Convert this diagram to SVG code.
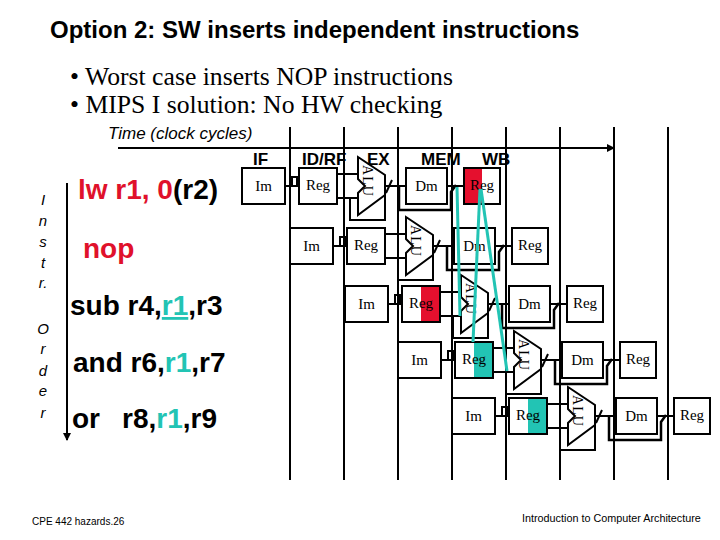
<svg xmlns="http://www.w3.org/2000/svg" width="720" height="540" viewBox="0 0 720 540">
<style>
.bx{fill:none;stroke:#000;stroke-width:2}
.w{fill:none;stroke:#000;stroke-width:2}
.lbl{font-family:"Liberation Serif","Times New Roman",serif;font-size:15px;text-anchor:middle;fill:#000}
.alu{font-family:"Liberation Serif","Times New Roman",serif;font-size:14px;text-anchor:middle;letter-spacing:1px}
.stg{font-family:"Liberation Sans",Arial,sans-serif;font-size:17px;font-weight:bold}
.ins{font-family:"Liberation Sans",Arial,sans-serif;font-size:28px;font-weight:bold}
.ord{font-family:"Liberation Sans",Arial,sans-serif;font-size:15px;font-style:italic;text-anchor:middle}
.bul{font-family:"Liberation Serif","Times New Roman",serif;font-size:25.7px}
.red{fill:#e0112b}
.cy{fill:#22c4b4}
.cyl{stroke:#22c4b4;stroke-width:3;fill:none}
.foot{font-family:"Liberation Sans",Arial,sans-serif;font-size:10px}
.foot2{font-family:"Liberation Sans",Arial,sans-serif;font-size:10.8px}
</style>
<defs>
<marker id="ah" markerWidth="8" markerHeight="8" refX="7" refY="4" orient="auto" markerUnits="userSpaceOnUse">
<path d="M0,0 L8,4 L0,8 Z" fill="#000"/>
</marker>
<g id="wires">
<path class="w" d="M43,18H57 M95,6H116 M95,30H116 M108,30V52H143V27 M143,18H164 M144,25L150,12 M205,18H222"/>
<rect x="50" y="9" width="5" height="9" class="bx" stroke-width="1.5"/>
<path d="M157,18V42H209V24L214,17" fill="none" stroke="#000" stroke-width="2.5"/>
</g>
</defs>
<rect width="720" height="540" fill="#fff"/>

<text x="50" y="38" font-family="Liberation Sans,Arial,sans-serif" font-size="24" font-weight="bold">Option 2: SW inserts independent instructions</text>
<text class="bul" x="70" y="85">• Worst case inserts NOP instructions</text>
<text class="bul" x="70" y="113">• MIPS I solution: No HW checking</text>
<text x="108" y="139" font-family="Liberation Sans,Arial,sans-serif" font-size="17" font-style="italic">Time (clock cycles)</text>

<g id="stages">
<text class="stg" x="253" y="165">IF</text>
<text class="stg" x="302" y="165">ID/RF</text>
<text class="stg" x="367" y="165">EX</text>
<text class="stg" x="421" y="165">MEM</text>
<text class="stg" x="482" y="165">WB</text>
</g>

<g id="order">
<text class="ord" x="43" y="205">I</text>
<text class="ord" x="43" y="226">n</text>
<text class="ord" x="43" y="247">s</text>
<text class="ord" x="43" y="268">t</text>
<text class="ord" x="43" y="288">r.</text>
<text class="ord" x="43" y="334">O</text>
<text class="ord" x="43" y="354">r</text>
<text class="ord" x="43" y="376">d</text>
<text class="ord" x="43" y="396">e</text>
<text class="ord" x="43" y="418">r</text>
</g>

<g id="instructions">
<text class="ins" x="78" y="199"><tspan class="red">lw r1, 0</tspan>(r2)</text>
<text class="ins red" x="83" y="258">nop</text>
<text class="ins" x="70" y="315">sub r4,<tspan class="cy" text-decoration="underline">r1</tspan>,r3</text>
<text class="ins" x="73" y="372">and r6,<tspan class="cy">r1</tspan>,r7</text>
<text class="ins" x="72" y="428">or<tspan x="122">r8,</tspan><tspan class="cy">r1</tspan>,r9</text>
</g>

<g id="connectors">
<path class="w" d="M290,127V480 M344,127V480 M398,127V480 M452,127V480 M506,127V480 M560,127V480 M614,127V480 M668,127V480"/>
<path class="w" d="M118,148H614" marker-end="url(#ah)"/>
<path class="w" d="M67,183V440" marker-end="url(#ah)"/>
</g>

<g id="row1" transform="translate(242,168)">
<use href="#wires"/>
<g id="r1-im"><rect class="bx" x="0" y="0" width="43" height="36"/><text class="lbl" x="21.5" y="23">Im</text></g>
<g id="r1-reg"><rect class="bx" x="57" y="0" width="38" height="36"/><text class="lbl" x="76" y="22">Reg</text></g>
<g id="r1-alu"><polygon class="bx" points="116,-11 143,7 143,27 116,47 116,25 123,18 116,11"/><text class="alu" transform="translate(121,13) rotate(90)">ALU</text></g>
<g id="r1-dm"><rect class="bx" x="164" y="0" width="41" height="36"/><text class="lbl" x="184.5" y="23">Dm</text></g>
<g id="r1-wb"><rect x="222" y="0" width="18" height="36" fill="#e5102e"/><rect class="bx" x="222" y="0" width="36" height="36"/><text class="lbl" x="240" y="22">Reg</text></g>
</g>

<g id="row2" transform="translate(290,228)">
<use href="#wires"/>
<g id="r2-im"><rect class="bx" x="0" y="0" width="43" height="36"/><text class="lbl" x="21.5" y="23">Im</text></g>
<g id="r2-reg"><rect class="bx" x="57" y="0" width="38" height="36"/><text class="lbl" x="76" y="22">Reg</text></g>
<g id="r2-alu"><polygon class="bx" points="116,-11 143,7 143,27 116,47 116,25 123,18 116,11"/><text class="alu" transform="translate(121,13) rotate(90)">ALU</text></g>
<g id="r2-dm"><rect class="bx" x="164" y="0" width="41" height="36"/><text class="lbl" x="184.5" y="23">Dm</text></g>
<g id="r2-wb"><rect class="bx" x="222" y="0" width="36" height="36"/><text class="lbl" x="240" y="22">Reg</text></g>
</g>

<g id="row3" transform="translate(345,286)">
<use href="#wires"/>
<g id="r3-im"><rect class="bx" x="0" y="0" width="43" height="36"/><text class="lbl" x="21.5" y="23">Im</text></g>
<g id="r3-reg"><rect x="76" y="0" width="19" height="36" fill="#e5102e"/><rect class="bx" x="57" y="0" width="38" height="36"/><text class="lbl" x="76" y="22">Reg</text></g>
<g id="r3-alu"><polygon class="bx" points="116,-11 143,7 143,27 116,47 116,25 123,18 116,11"/><text class="alu" transform="translate(121,13) rotate(90)">ALU</text></g>
<g id="r3-dm"><rect class="bx" x="164" y="0" width="41" height="36"/><text class="lbl" x="184.5" y="23">Dm</text></g>
<g id="r3-wb"><rect class="bx" x="222" y="0" width="36" height="36"/><text class="lbl" x="240" y="22">Reg</text></g>
</g>

<g id="row4" transform="translate(398,342)">
<use href="#wires"/>
<g id="r4-im"><rect class="bx" x="0" y="0" width="43" height="36"/><text class="lbl" x="21.5" y="23">Im</text></g>
<g id="r4-reg"><rect x="76" y="0" width="19" height="36" fill="#22c4b4"/><rect class="bx" x="57" y="0" width="38" height="36"/><text class="lbl" x="76" y="22">Reg</text></g>
<g id="r4-alu"><polygon class="bx" points="116,-11 143,7 143,27 116,47 116,25 123,18 116,11"/><text class="alu" transform="translate(121,13) rotate(90)">ALU</text></g>
<g id="r4-dm"><rect class="bx" x="164" y="0" width="41" height="36"/><text class="lbl" x="184.5" y="23">Dm</text></g>
<g id="r4-wb"><rect class="bx" x="222" y="0" width="36" height="36"/><text class="lbl" x="240" y="22">Reg</text></g>
</g>

<g id="row5" transform="translate(452,398)">
<use href="#wires"/>
<g id="r5-im"><rect class="bx" x="0" y="0" width="43" height="36"/><text class="lbl" x="21.5" y="23">Im</text></g>
<g id="r5-reg"><rect x="76" y="0" width="19" height="36" fill="#22c4b4"/><rect class="bx" x="57" y="0" width="38" height="36"/><text class="lbl" x="76" y="22">Reg</text></g>
<g id="r5-alu"><polygon class="bx" points="116,-11 143,7 143,27 116,47 116,25 123,18 116,11"/><text class="alu" transform="translate(121,13) rotate(90)">ALU</text></g>
<g id="r5-dm"><rect class="bx" x="164" y="0" width="41" height="36"/><text class="lbl" x="184.5" y="23">Dm</text></g>
<g id="r5-wb"><rect class="bx" x="222" y="0" width="36" height="36"/><text class="lbl" x="240" y="22">Reg</text></g>
</g>

<g id="forwarding">
<path class="cyl" d="M457,187L460,316"/>
<path class="cyl" d="M480,189L473,342"/>
<path class="cyl" d="M481,189L507,371"/>
</g>

<text class="foot" x="32" y="525">CPE 442  hazards.26</text>
<text class="foot2" x="522" y="522">Introduction to Computer Architecture</text>
</svg>
